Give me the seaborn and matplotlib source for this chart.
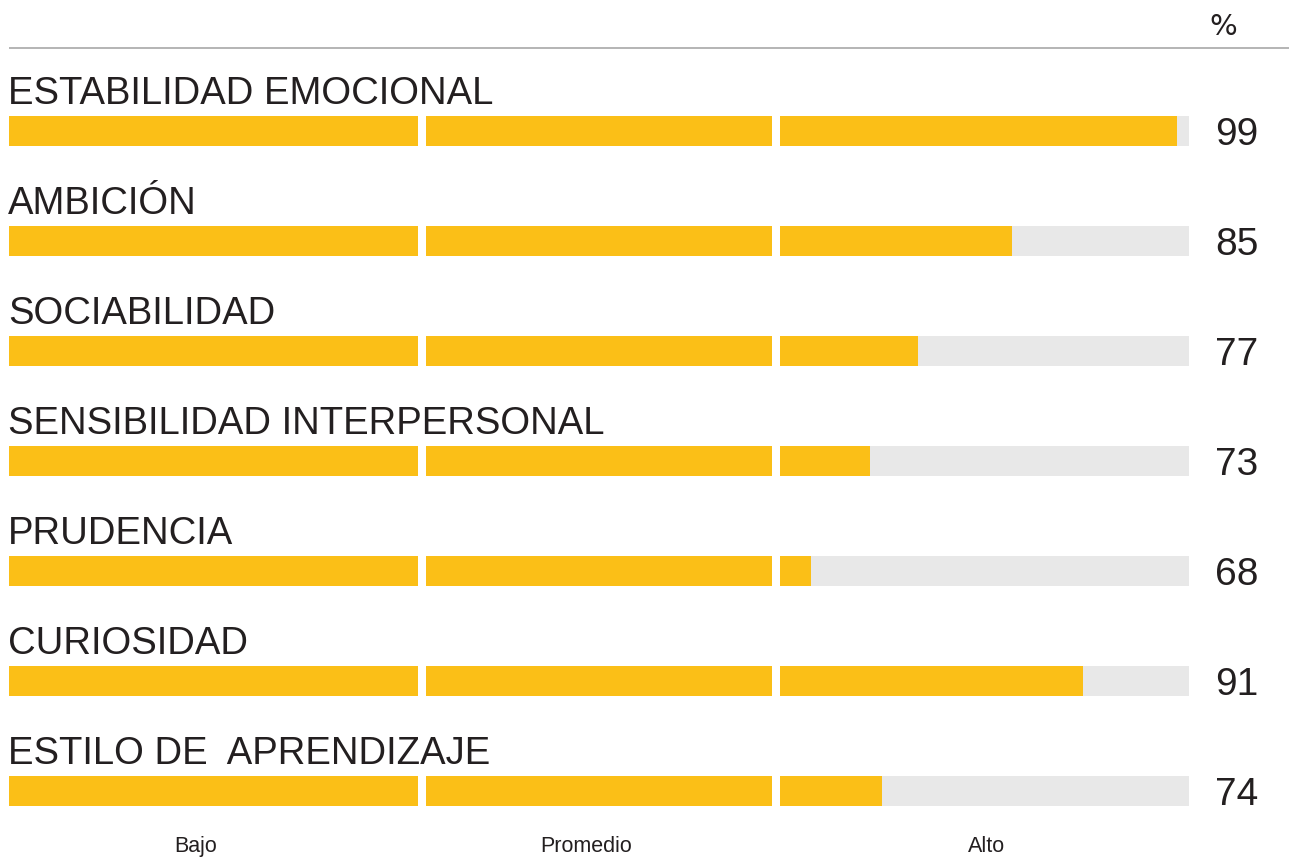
import numpy as np
import pandas as pd
import matplotlib
matplotlib.use("Agg")
import matplotlib.pyplot as plt
import seaborn as sns

# ------------------------------
# Data
# ------------------------------
traits = ["ESTABILIDAD EMOCIONAL", "AMBICIÓN", "SOCIABILIDAD",
          "SENSIBILIDAD INTERPERSONAL", "PRUDENCIA", "CURIOSIDAD",
          "ESTILO DE  APRENDIZAJE"]
scores = [99, 85, 77, 73, 68, 91, 74]
levels = ["Bajo", "Promedio", "Alto"]
level_pos = [15.8, 48.9, 82.8]

# segment limits on the 0-100 scale (small white gap between them)
segments = [(0, 34.66), (35.34, 64.66), (65.34, 100)]

YELLOW = "#fbbf17"
TRACK = "#e8e8e8"
TEXT = "#231f20"

sns.set_theme(style="white")
plt.rcParams['font.family'] = ['Liberation Sans', 'DejaVu Sans']

fig = plt.figure(figsize=(12.89, 8.57), dpi=100)
ax = fig.add_axes([0, 0, 1, 1])

df = pd.DataFrame({"trait": traits, "score": scores})
rows = np.arange(len(traits))
bar_h = 30 / 110

# grey track + yellow fill, per segment
for lo, hi in segments:
    ax.barh(rows, hi - lo, left=lo, height=bar_h, color=TRACK, linewidth=0)
    fill = np.clip(df["score"].to_numpy(), lo, hi) - lo
    ax.barh(rows, fill, left=lo, height=bar_h, color=YELLOW, linewidth=0)

# labels and values
for i, (t, s) in enumerate(zip(df["trait"], df["score"])):
    ax.text(-0.1, i - 0.245, t, fontsize=27.5, color=TEXT, ha="left", va="baseline")
    ax.text(102.2, i + 0.127, str(s), fontsize=28, color=TEXT, ha="left", va="baseline")

# header rule and percent sign
ax.plot([0, 110], [-0.7545, -0.7545], color="#b4b4b4", lw=1.4, solid_capstyle="butt")
ax.text(102.9, -0.873, "%", fontsize=21, color=TEXT, ha="center", va="baseline",
        family=['Liberation Sans Narrow', 'DejaVu Sans'])

# level labels at the bottom
for name, x in zip(levels, level_pos):
    ax.text(x, 6.555, name, fontsize=15.5, color=TEXT, ha="center", va="baseline")

ax.set_xlim(-9 / 11.8, 1280 / 11.8)
ax.set_ylim((857 - 131) / 110, -131 / 110)
ax.axis("off")

fig.savefig("out.png", dpi=100, facecolor="white")
